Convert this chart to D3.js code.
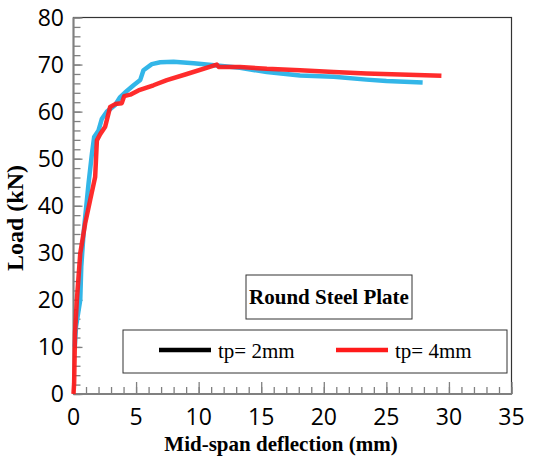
<!DOCTYPE html>
<html>
<head>
<meta charset="utf-8">
<script src="https://cdn.jsdelivr.net/npm/d3@7"></script>
<style>
body { margin: 0; background: #fff; }
svg { display: block; }
</style>
</head>
<body>
<div id="grafica"></div>
<script>
// datos
var blueX = [0.1, 0.2, 0.54, 0.62, 0.8, 1.2, 1.47, 1.65, 2.0, 2.27, 2.67, 3.33, 3.73, 4.26, 4.8, 5.33, 5.59, 6.26, 6.93, 8.0, 9.6, 11.45, 13.3, 15.45, 18.1, 20.8, 23.4, 25.0, 27.9];
var blueY = [10, 14.3, 20, 27, 34, 44.7, 51, 54.6, 56, 58.5, 60, 61.4, 63.1, 64.4, 65.6, 66.7, 68.8, 70.1, 70.5, 70.6, 70.3, 69.8, 69.3, 68.4, 67.7, 67.4, 66.8, 66.5, 66.2];
var redX = [0, 0.05, 0.12, 0.27, 0.54, 0.93, 1.33, 1.73, 1.87, 2.13, 2.53, 2.93, 3.33, 3.86, 4.05, 4.53, 5.19, 6.39, 7.46, 9.06, 11.45, 11.6, 13.3, 15.45, 18.1, 20.8, 23.4, 26.1, 29.4];
var redY = [0, 2.3, 12.9, 20, 29.9, 36.2, 41.2, 46.1, 53.9, 55.2, 56.8, 61, 61.6, 61.8, 63.3, 63.6, 64.5, 65.6, 66.7, 68.0, 70.0, 69.5, 69.5, 69.1, 68.8, 68.4, 68.1, 67.9, 67.6];
var xTicks = [0, 5, 10, 15, 20, 25, 30, 35];
var yTicks = [0, 10, 20, 30, 40, 50, 60, 70, 80];
var leyenda = ['tp= 2mm', 'tp= 4mm'];
var colores = ['#000000', '#ff1a1a'];
var azul = '#33b6e8';
var rojo = '#ff1a1a';

var svg = d3.select('#grafica').append('svg')
	.attr('width', 535)
	.attr('height', 461);

var x = d3.scaleLinear().domain([0, 35]).range([73.5, 511.5]);
var y = d3.scaleLinear().domain([0, 80]).range([394, 17.5]);

// marco
svg.append('rect')
	.attr('x', x(0)).attr('y', y(80))
	.attr('width', x(35) - x(0)).attr('height', y(0) - y(80))
	.attr('fill', 'none').attr('stroke', '#333').attr('stroke-width', 1.2);

// ticks menores y mayores (hacia dentro)
function gris(g) {
	g.select('.domain').remove();
	g.selectAll('line').attr('stroke', '#808080').attr('stroke-width', 1.3);
}
svg.append('g').attr('transform', 'translate(0,' + y(0) + ')')
	.call(d3.axisBottom(x).tickValues(d3.range(0, 36, 1)).tickSize(-7).tickFormat(''))
	.call(gris);
svg.append('g').attr('transform', 'translate(0,' + y(0) + ')')
	.call(d3.axisBottom(x).tickValues(xTicks).tickSize(-12).tickFormat(''))
	.call(gris);
svg.append('g').attr('transform', 'translate(' + x(0) + ',0)')
	.call(d3.axisLeft(y).tickValues(d3.range(0, 81, 2)).tickSize(-7).tickFormat(''))
	.call(gris);
svg.append('g').attr('transform', 'translate(' + x(0) + ',0)')
	.call(d3.axisLeft(y).tickValues(yTicks).tickSize(-9).tickFormat(''))
	.call(gris);

// ejes izquierdo e inferior en gris
svg.append('line').attr('x1', x(0)).attr('x2', x(0)).attr('y1', y(80)).attr('y2', y(0))
	.attr('stroke', '#808080').attr('stroke-width', 2);
svg.append('line').attr('x1', x(0)).attr('x2', x(35)).attr('y1', y(0)).attr('y2', y(0))
	.attr('stroke', '#808080').attr('stroke-width', 2);

// etiquetas de ticks
svg.selectAll('.xl').data(xTicks).enter().append('text')
	.attr('x', function (d) { return x(d); })
	.attr('y', 425)
	.attr('text-anchor', 'middle')
	.attr('font-family', 'Open Sans')
	.attr('font-size', '23px')
	.text(function (d) { return d; });
svg.selectAll('.yl').data(yTicks).enter().append('text')
	.attr('x', 64)
	.attr('y', function (d) { return y(d) + 8; })
	.attr('text-anchor', 'end')
	.attr('font-family', 'Open Sans')
	.attr('font-size', '23px')
	.text(function (d) { return d; });

// titulos de ejes
svg.append('text')
	.attr('x', 281).attr('y', 451)
	.attr('text-anchor', 'middle')
	.attr('font-family', 'Liberation Serif')
	.attr('font-weight', 'bold')
	.attr('font-size', '21px')
	.text('Mid-span deflection (mm)');
svg.append('text')
	.attr('transform', 'translate(23,218) rotate(-90)')
	.attr('text-anchor', 'middle')
	.attr('font-family', 'Liberation Serif')
	.attr('font-weight', 'bold')
	.attr('font-size', '24px')
	.text('Load (kN)');

// curvas
var linea = d3.line()
	.x(function (d) { return x(d[0]); })
	.y(function (d) { return y(d[1]); });
svg.append('path')
	.datum(d3.zip(blueX, blueY))
	.attr('d', linea)
	.attr('fill', 'none').attr('stroke', azul).attr('stroke-width', 4.5)
	.attr('stroke-linejoin', 'round');
svg.append('path')
	.datum(d3.zip(redX, redY))
	.attr('d', linea)
	.attr('fill', 'none').attr('stroke', rojo).attr('stroke-width', 4.5)
	.attr('stroke-linejoin', 'round').attr('opacity', 0.92);

// caja titulo
svg.append('rect')
	.attr('x', 246).attr('y', 275).attr('width', 166).attr('height', 44)
	.attr('fill', '#fff').attr('stroke', '#333').attr('stroke-width', 1);
svg.append('text')
	.attr('x', 329).attr('y', 304)
	.attr('text-anchor', 'middle')
	.attr('font-family', 'Liberation Serif')
	.attr('font-weight', 'bold')
	.attr('font-size', '21px')
	.text('Round Steel Plate');

// leyenda
svg.append('rect')
	.attr('x', 123).attr('y', 330).attr('width', 384).attr('height', 43)
	.attr('fill', '#fff').attr('stroke', '#333').attr('stroke-width', 1);
var lx = [159, 336];
for (var i = 0; i < leyenda.length; i++) {
	svg.append('line')
		.attr('x1', lx[i]).attr('x2', lx[i] + 52)
		.attr('y1', 350).attr('y2', 350)
		.attr('stroke', colores[i]).attr('stroke-width', 4.5);
	svg.append('text')
		.attr('x', lx[i] + 59).attr('y', 358)
		.attr('font-family', 'Liberation Serif')
		.attr('font-size', '21px')
		.text(leyenda[i]);
}
</script>
</body>
</html>
